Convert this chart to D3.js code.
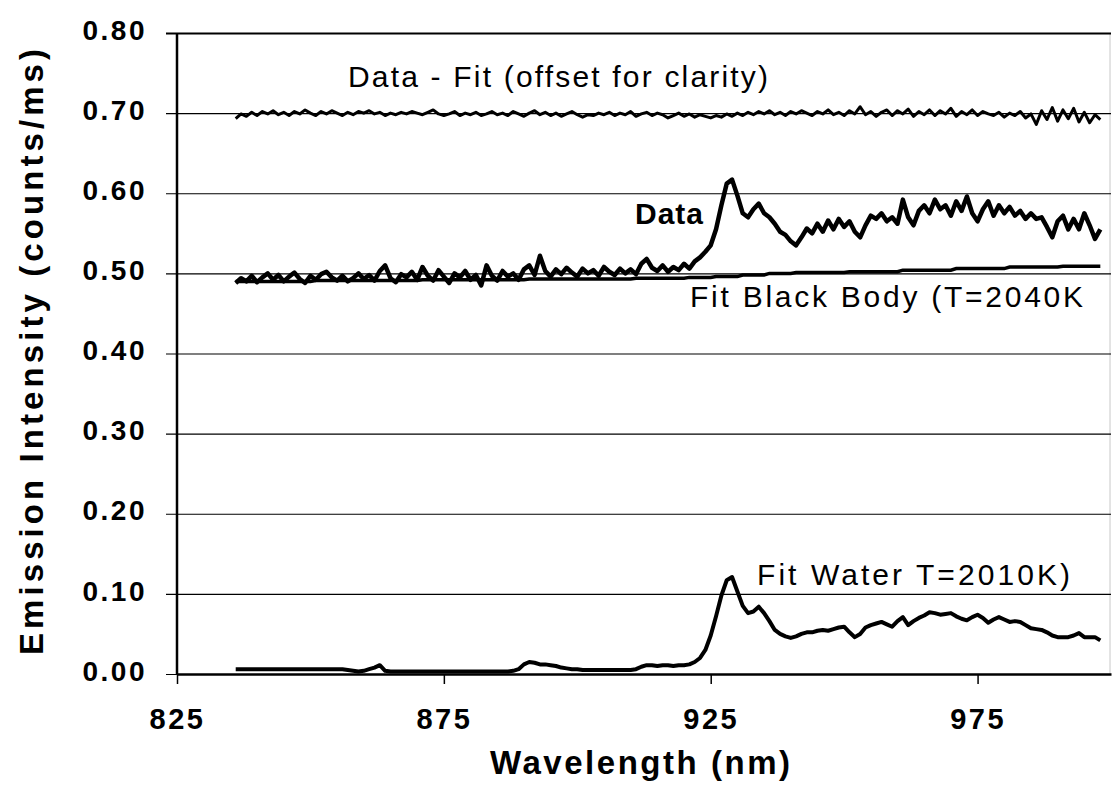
<!DOCTYPE html>
<html>
<head>
<meta charset="utf-8">
<script src="https://cdnjs.cloudflare.com/ajax/libs/d3/7.8.5/d3.min.js"></script>
<style>
  body { margin: 0; background: #fff; }
  text { font-family: "Liberation Sans", Arial, sans-serif; fill: #000; }
</style>
</head>
<body>
<div id="vis"></div>
<script>
// wavelength grid (nm), 836..998
const wavelength = [
  836,837,838,839,840,841,842,843,844,845,
  846,847,848,849,850,851,852,853,854,855,
  856,857,858,859,860,861,862,863,864,865,
  866,867,868,869,870,871,872,873,874,875,
  876,877,878,879,880,881,882,883,884,885,
  886,887,888,889,890,891,892,893,894,895,
  896,897,898,899,900,901,902,903,904,905,
  906,907,908,909,910,911,912,913,914,915,
  916,917,918,919,920,921,922,923,924,925,
  926,927,928,929,930,931,932,933,934,935,
  936,937,938,939,940,941,942,943,944,945,
  946,947,948,949,950,951,952,953,954,955,
  956,957,958,959,960,961,962,963,964,965,
  966,967,968,969,970,971,972,973,974,975,
  976,977,978,979,980,981,982,983,984,985,
  986,987,988,989,990,991,992,993,994,995,
  996,997,998
];

const dataValues = [
  0.488,0.494,0.490,0.497,0.489,0.495,0.500,0.492,0.498,0.490,
  0.496,0.501,0.493,0.488,0.497,0.492,0.499,0.502,0.495,0.491,
  0.497,0.490,0.494,0.500,0.493,0.498,0.491,0.503,0.510,0.494,
  0.489,0.499,0.495,0.502,0.492,0.508,0.497,0.491,0.504,0.496,
  0.488,0.500,0.495,0.503,0.492,0.498,0.485,0.510,0.497,0.491,
  0.503,0.496,0.500,0.492,0.505,0.510,0.498,0.522,0.503,0.496,
  0.505,0.499,0.507,0.501,0.496,0.506,0.500,0.504,0.497,0.508,
  0.502,0.498,0.506,0.500,0.505,0.499,0.512,0.518,0.507,0.503,
  0.510,0.502,0.508,0.504,0.512,0.506,0.515,0.520,0.527,0.535,
  0.555,0.585,0.612,0.617,0.597,0.575,0.570,0.580,0.587,0.575,
  0.570,0.562,0.552,0.548,0.540,0.535,0.545,0.556,0.550,0.562,
  0.552,0.566,0.555,0.568,0.558,0.565,0.552,0.545,0.560,0.572,
  0.568,0.575,0.565,0.570,0.562,0.592,0.570,0.560,0.578,0.585,
  0.575,0.592,0.580,0.585,0.572,0.590,0.578,0.596,0.575,0.565,
  0.580,0.590,0.572,0.585,0.575,0.583,0.572,0.578,0.568,0.575,
  0.568,0.570,0.558,0.545,0.565,0.572,0.555,0.568,0.555,0.575,
  0.560,0.543,0.555
];

const blackBodyValues = [
  0.490,0.490,0.490,0.490,0.490,0.490,0.490,0.490,0.490,0.490,
  0.490,0.490,0.490,0.490,0.490,0.491,0.491,0.491,0.491,0.491,
  0.491,0.491,0.491,0.491,0.491,0.491,0.491,0.491,0.491,0.491,
  0.491,0.491,0.491,0.491,0.491,0.492,0.492,0.492,0.492,0.492,
  0.492,0.492,0.492,0.492,0.492,0.492,0.492,0.492,0.492,0.492,
  0.492,0.492,0.492,0.492,0.492,0.493,0.493,0.493,0.493,0.493,
  0.493,0.493,0.493,0.493,0.493,0.493,0.493,0.493,0.493,0.493,
  0.493,0.493,0.493,0.493,0.493,0.494,0.494,0.494,0.494,0.494,
  0.494,0.494,0.494,0.494,0.494,0.495,0.495,0.495,0.495,0.495,
  0.496,0.496,0.496,0.496,0.496,0.498,0.498,0.498,0.498,0.498,
  0.500,0.500,0.500,0.500,0.500,0.501,0.501,0.501,0.501,0.501,
  0.501,0.501,0.501,0.501,0.501,0.502,0.502,0.502,0.502,0.502,
  0.502,0.502,0.502,0.502,0.502,0.504,0.504,0.504,0.504,0.504,
  0.504,0.504,0.504,0.504,0.504,0.506,0.506,0.506,0.506,0.506,
  0.506,0.506,0.506,0.506,0.506,0.508,0.508,0.508,0.508,0.508,
  0.508,0.508,0.508,0.508,0.508,0.509,0.509,0.509,0.509,0.509,
  0.509,0.509,0.509
];

const waterValues = [
  0.006,0.006,0.006,0.006,0.006,0.006,0.006,0.006,0.006,0.006,
  0.006,0.006,0.006,0.006,0.006,0.006,0.006,0.006,0.006,0.006,
  0.006,0.005,0.004,0.003,0.004,0.006,0.008,0.011,0.004,0.003,
  0.003,0.003,0.003,0.003,0.003,0.003,0.003,0.003,0.003,0.003,
  0.003,0.003,0.003,0.003,0.003,0.003,0.003,0.003,0.003,0.003,
  0.003,0.003,0.004,0.006,0.012,0.015,0.014,0.012,0.012,0.011,
  0.010,0.008,0.007,0.006,0.006,0.005,0.005,0.005,0.005,0.005,
  0.005,0.005,0.005,0.005,0.005,0.006,0.009,0.011,0.011,0.010,
  0.011,0.011,0.010,0.011,0.011,0.012,0.015,0.020,0.030,0.048,
  0.072,0.098,0.117,0.121,0.103,0.085,0.076,0.078,0.084,0.076,
  0.066,0.055,0.050,0.047,0.045,0.047,0.050,0.052,0.052,0.054,
  0.055,0.054,0.056,0.058,0.059,0.052,0.046,0.050,0.058,0.061,
  0.063,0.065,0.062,0.059,0.066,0.071,0.061,0.066,0.070,0.073,
  0.077,0.076,0.074,0.075,0.076,0.072,0.069,0.067,0.071,0.074,
  0.070,0.064,0.068,0.071,0.068,0.065,0.066,0.065,0.061,0.057,
  0.056,0.055,0.052,0.048,0.046,0.046,0.046,0.048,0.051,0.046,
  0.046,0.046,0.042
];

// residual, offset by +0.70
const residualValues = [
  0.693,0.699,0.696,0.701,0.697,0.702,0.699,0.703,0.698,0.701,
  0.697,0.702,0.699,0.704,0.700,0.697,0.702,0.699,0.703,0.700,
  0.697,0.701,0.698,0.702,0.700,0.703,0.699,0.701,0.697,0.700,
  0.698,0.701,0.699,0.702,0.700,0.698,0.701,0.704,0.699,0.697,
  0.699,0.702,0.697,0.700,0.698,0.701,0.697,0.699,0.702,0.698,
  0.700,0.697,0.702,0.699,0.696,0.700,0.703,0.698,0.701,0.697,
  0.700,0.696,0.699,0.702,0.698,0.695,0.698,0.697,0.700,0.698,
  0.701,0.697,0.700,0.698,0.702,0.696,0.699,0.701,0.697,0.700,
  0.698,0.694,0.697,0.700,0.696,0.699,0.695,0.698,0.696,0.694,
  0.697,0.695,0.699,0.696,0.700,0.697,0.701,0.698,0.702,0.699,
  0.703,0.698,0.701,0.697,0.702,0.699,0.703,0.700,0.697,0.702,
  0.699,0.704,0.698,0.701,0.697,0.703,0.699,0.708,0.698,0.702,
  0.696,0.701,0.704,0.697,0.703,0.699,0.705,0.696,0.702,0.698,
  0.704,0.697,0.703,0.699,0.706,0.696,0.702,0.698,0.704,0.697,
  0.702,0.699,0.697,0.701,0.695,0.700,0.697,0.702,0.694,0.699,
  0.686,0.703,0.692,0.707,0.690,0.704,0.693,0.706,0.689,0.701,
  0.688,0.698,0.692
];

const xTicks = [825, 875, 925, 975];
const yTicks = [0, 0.1, 0.2, 0.3, 0.4, 0.5, 0.6, 0.7, 0.8];

const SVG = d3.select("#vis").append("svg").attr("width", 1112).attr("height", 797);
SVG.append("rect").attr("width", 1112).attr("height", 797).attr("fill", "#fff");

const margin = { top: 33, right: 1, bottom: 123, left: 177 };
const width = 1112 - margin.left - margin.right;
const height = 797 - margin.top - margin.bottom;

const x = d3.scaleLinear().domain([825, 1000]).range([margin.left, margin.left + width]);
const y = d3.scaleLinear().domain([0, 0.8]).range([margin.top + height, margin.top]);

// right frame edge (faint)
SVG.append("line")
  .attr("x1", x(1000) - 1).attr("x2", x(1000) - 1)
  .attr("y1", y(0.8)).attr("y2", y(0))
  .attr("stroke", "#c8c8c8").attr("stroke-width", 1);

// gridlines + y ticks
SVG.append("g")
  .attr("transform", "translate(" + margin.left + ",0)")
  .call(d3.axisLeft(y).tickValues(yTicks).tickSize(-width).tickSizeOuter(0).tickFormat(d3.format(".2f")))
  .call(g => g.select(".domain").remove())
  .call(g => g.selectAll(".tick line")
    .attr("x1", -11)
    .attr("stroke", "#000")
    .attr("stroke-width", d => d === 0.8 ? 2 : 1.2))
  .call(g => g.selectAll(".tick text")
    .attr("x", -30)
    .attr("dy", "0.22em")
    .style("font-size", "28px")
    .style("font-weight", "bold")
    .style("letter-spacing", "2.5px"));

// x axis
SVG.append("g")
  .attr("transform", "translate(0," + (margin.top + height) + ")")
  .call(d3.axisBottom(x).tickValues(xTicks).tickSize(10).tickSizeOuter(0))
  .call(g => g.select(".domain").attr("stroke-width", 2.5))
  .call(g => g.selectAll(".tick line").attr("stroke-width", 1.5))
  .call(g => g.selectAll(".tick text")
    .attr("y", 34)
    .attr("dy", "0.71em")
    .style("font-size", "29px")
    .style("font-weight", "bold")
    .style("letter-spacing", "2.5px"));

// y axis line
SVG.append("line")
  .attr("x1", margin.left).attr("x2", margin.left)
  .attr("y1", y(0.8)).attr("y2", y(0))
  .attr("stroke", "#000").attr("stroke-width", 2.5);

const line = d3.line()
  .x((d, i) => x(wavelength[i]))
  .y(d => y(d));

SVG.append("path").datum(blackBodyValues)
  .attr("d", line).attr("fill", "none")
  .attr("stroke", "#000").attr("stroke-width", 3.5);

SVG.append("path").datum(dataValues)
  .attr("d", line).attr("fill", "none")
  .attr("stroke", "#000").attr("stroke-width", 4.5)
  .attr("stroke-linejoin", "round");

SVG.append("path").datum(waterValues)
  .attr("d", line).attr("fill", "none")
  .attr("stroke", "#000").attr("stroke-width", 4)
  .attr("stroke-linejoin", "round");

SVG.append("path").datum(residualValues)
  .attr("d", line).attr("fill", "none")
  .attr("stroke", "#000").attr("stroke-width", 3)
  .attr("stroke-linejoin", "round");

// labels in the plot
function label(txt, x0, y0, len, bold) {
  SVG.append("text")
    .attr("x", x0).attr("y", y0)
    .attr("textLength", len).attr("lengthAdjust", "spacing")
    .style("font-size", "30px")
    .style("font-weight", bold ? "bold" : "normal")
    .text(txt);
}
label("Data - Fit  (offset for clarity)", 348, 87, 420, false);
label("Data", 635, 224, 68, true);
label("Fit Black Body (T=2040K", 690, 307, 393, false);
label("Fit Water T=2010K)", 757, 585, 313, false);

// axis titles
SVG.append("text")
  .attr("x", 640).attr("y", 774)
  .attr("text-anchor", "middle")
  .attr("textLength", 300).attr("lengthAdjust", "spacing")
  .style("font-size", "33px").style("font-weight", "bold")
  .text("Wavelength (nm)");

SVG.append("text")
  .attr("transform", "translate(43,352) rotate(-90)")
  .attr("text-anchor", "middle")
  .attr("textLength", 606).attr("lengthAdjust", "spacing")
  .style("font-size", "33px").style("font-weight", "bold")
  .text("Emission Intensity (counts/ms)");
</script>
</body>
</html>
